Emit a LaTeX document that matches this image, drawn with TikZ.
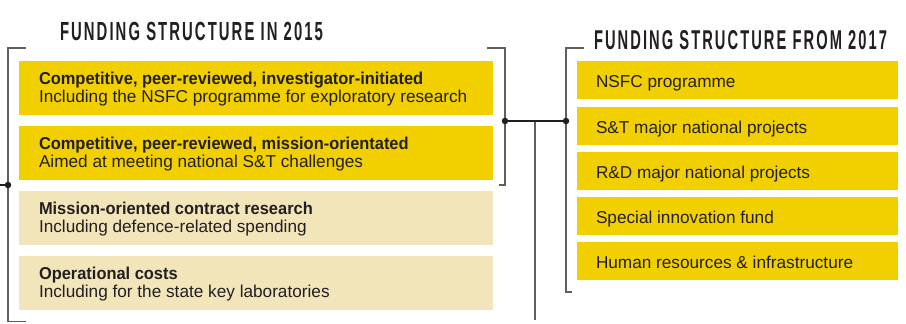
\documentclass[tikz,border=0pt]{standalone}
\usepackage{fontspec}
\setmainfont{Liberation Sans}
\newfontfamily\headfont{Liberation Sans}[LetterSpace=14]
\newfontfamily\narrowbold{Liberation Sans}[FakeStretch=0.955]
\definecolor{yel}{RGB}{242,208,0}
\definecolor{pale}{RGB}{242,229,186}
\definecolor{ink}{RGB}{35,31,32}
\definecolor{brk}{RGB}{95,95,95}
\tikzset{
  boxbase/.style={anchor=north west, inner sep=0pt, outer sep=0pt, minimum width=#1},
  lbox/.style={boxbase=474pt, minimum height=54pt, fill=yel},
  pbox/.style={boxbase=474pt, minimum height=54pt, fill=pale},
  rbox/.style={boxbase=321pt, minimum height=38pt, fill=yel},
  txt/.style={anchor=base west, inner sep=0pt, outer sep=0pt, text=ink, font=\fontsize{17.2}{20}\selectfont},
  btxt/.style={txt, font=\narrowbold\bfseries\fontsize{17.2}{20}\selectfont},
  head/.style={anchor=base west, inner sep=0pt, outer sep=0pt, text=ink},
  bracket/.style={draw=brk, line width=1.3pt},
  link/.style={draw=ink, line width=2.6pt},
  dot/.style={circle, fill=ink, inner sep=0pt, minimum size=6.5pt},
}
\begin{document}
\begin{tikzpicture}[x=1pt, y=-1pt]
\useasboundingbox (0,0) rectangle (906,324);
% titles
\node[head] (h1) at (60,40) {\resizebox{263pt}{18.3pt}{\headfont\bfseries FUNDING STRUCTURE IN 2015}};
\node[head] (h2) at (594,49) {\resizebox{293pt}{19pt}{\headfont\bfseries FUNDING STRUCTURE FROM 2017}};
% left boxes
\node[lbox] (b1) at (19,61) {};
\node[lbox] (b2) at (19,126) {};
\node[pbox] (b3) at (19,191) {};
\node[pbox] (b4) at (19,256) {};
\node[btxt] (t1a) at (39,84) {Competitive, peer-reviewed, investigator-initiated};
\node[txt]  (t1b) at (39,102) {Including the NSFC programme for exploratory research};
\node[btxt] (t2a) at (39,149) {Competitive, peer-reviewed, mission-orientated};
\node[txt]  (t2b) at (39,167) {Aimed at meeting national S\&T challenges};
\node[btxt] (t3a) at (39,214) {Mission-oriented contract research};
\node[txt]  (t3b) at (39,232) {Including defence-related spending};
\node[btxt] (t4a) at (39,279) {Operational costs};
\node[txt]  (t4b) at (39,297) {Including for the state key laboratories};
% right boxes
\node[rbox] (r1) at (577,61) {};
\node[rbox] (r2) at (577,107) {};
\node[rbox] (r3) at (577,152) {};
\node[rbox] (r4) at (577,197) {};
\node[rbox] (r5) at (577,242) {};
\node[txt] (s1) at (596,87.3) {NSFC programme};
\node[txt] (s2) at (596,133) {S\&T major national projects};
\node[txt] (s3) at (596,178) {R\&D major national projects};
\node[txt] (s4) at (596,223) {Special innovation fund};
\node[txt] (s5) at (596,268) {Human resources \& infrastructure};
% bracket coordinates
\coordinate (lbt) at (26,48);
\coordinate (lbtc) at (8,48);
\coordinate (lbbc) at (8,321.5);
\coordinate (lbb) at (26,321.5);
\coordinate (stub) at (0,185);
\coordinate (ldot) at (8,185);
\coordinate (ubt) at (487,48);
\coordinate (ubtc) at (505,48);
\coordinate (ubbc) at (505,185);
\coordinate (ubb) at (499,185);
\coordinate (udot) at (505,121);
\coordinate (rdot) at (566,121);
\coordinate (rbt) at (584,48);
\coordinate (rbtc) at (566,48);
\coordinate (rbbc) at (566,292);
\coordinate (rbb) at (572,292);
\coordinate (vtop) at (535,121);
\coordinate (vbot) at (535,320);
% brackets
\draw[bracket] (lbt) -- (lbtc) -- (lbbc) -- (lbb);
\draw[bracket] (ubt) -- (ubtc) -- (ubbc) -- (ubb);
\draw[bracket] (rbt) -- (rbtc) -- (rbbc) -- (rbb);
\draw[bracket] (vtop) -- (vbot);
% links
\draw[link, line width=2pt] (stub) -- (ldot);
\draw[link] (udot) -- (rdot);
\node[dot] (d0) at (ldot) {};
\node[dot] (d1) at (udot) {};
\node[dot] (d2) at (rdot) {};
\end{tikzpicture}
\end{document}
